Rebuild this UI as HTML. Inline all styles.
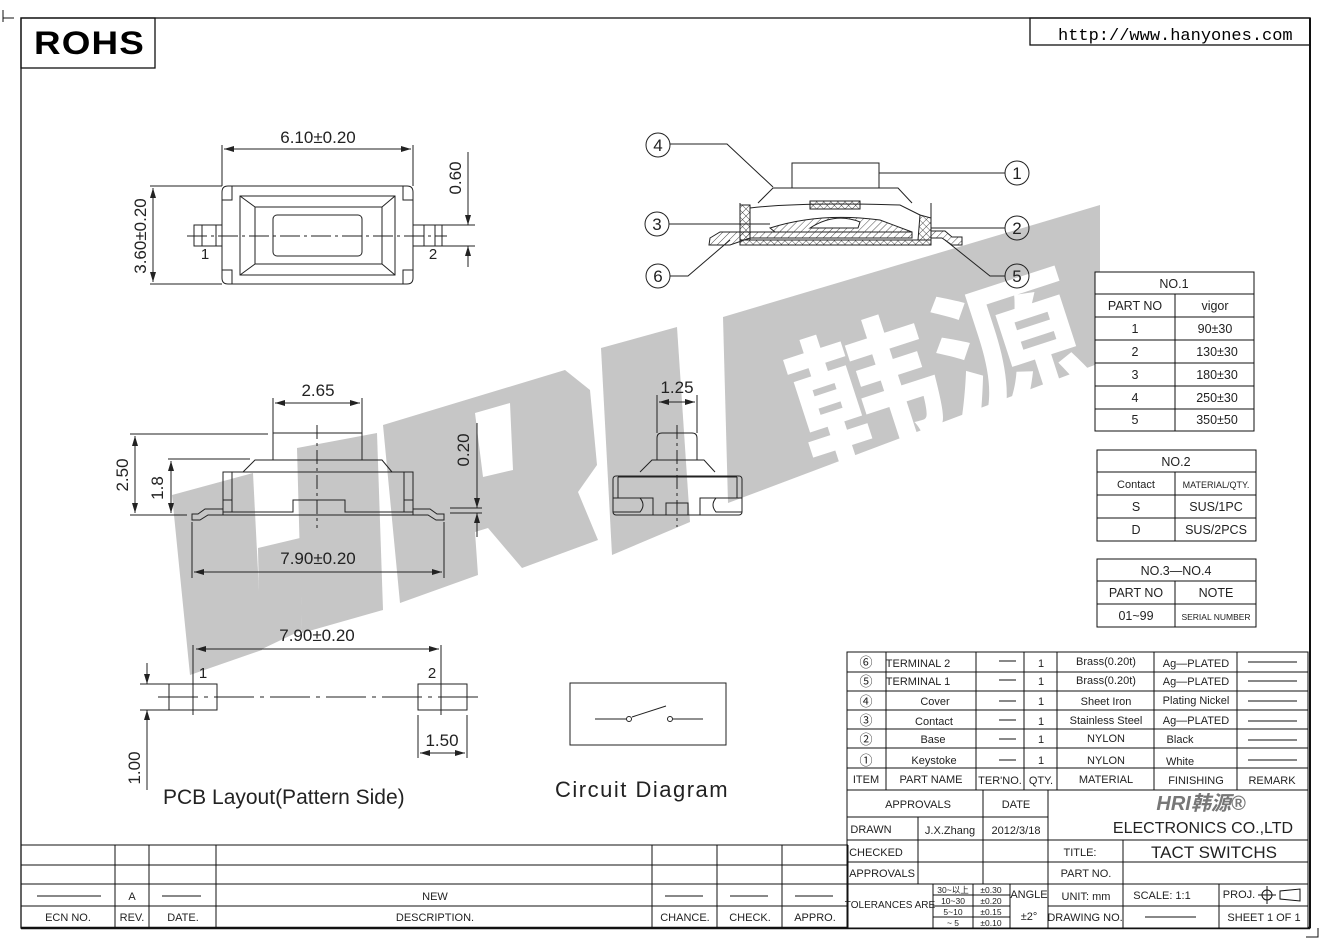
<!DOCTYPE html>
<html><head><meta charset="utf-8"><style>
html,body{margin:0;padding:0;background:#fff;}
svg{display:block;}
text{font-family:"Liberation Sans","Noto Sans CJK SC",sans-serif;fill:#222;}
</style></head><body>
<svg width="1327" height="942" viewBox="0 0 1327 942" xmlns="http://www.w3.org/2000/svg">
<defs>
<pattern id="h" width="5" height="5" patternUnits="userSpaceOnUse" patternTransform="rotate(45)"><line x1="0" y1="0" x2="0" y2="5" stroke="#222" stroke-width="0.8"/></pattern>
<pattern id="x" width="5" height="5" patternUnits="userSpaceOnUse" patternTransform="rotate(45)"><path d="M0 0V5M0 0H5" stroke="#222" stroke-width="0.8" fill="none"/></pattern>
<marker id="a" viewBox="0 0 10 6" refX="10" refY="3" markerWidth="10" markerHeight="6" orient="auto-start-reverse" markerUnits="userSpaceOnUse"><path d="M0 0L10 3L0 6z" fill="#222"/></marker>
</defs>

<!-- watermark -->
<g fill="#c6c6c6">
<polygon points="172,495 253,473 262,650 190,675"/>
<polygon points="258,548 300,538 302,630 260,650"/>
<polygon points="297,448 377,433 383,610 302,633"/>
<path fill-rule="evenodd" d="M383,425 L565,370 L590,390 L597,465 L578,492 L598,540 L522,568 L488,528 L475,532 L478,575 L400,603 Z M475,413 L510,403 L513,470 L483,477 Z"/>
<polygon points="601,348 677,327 690,522 612,555"/>
<polygon points="723,317 1100,205 1100,363 728,503"/>
</g>
<text x="812" y="470" font-size="150" font-weight="bold" style="fill:#fff" transform="rotate(-18 812 470)">韩源</text>

<!-- frame -->
<g stroke="#111" fill="none">
<path d="M3 18H14M3 10V22" stroke-width="1"/>
<rect x="21" y="18" width="1289" height="910" stroke-width="1.3"/>
<line x1="21" y1="928" x2="1310" y2="928" stroke-width="2.5"/>
<line x1="1310" y1="18" x2="1310" y2="928" stroke-width="2"/>
<path d="M1306 937H1318V928" stroke-width="1"/>
<rect x="21" y="18" width="134" height="50" stroke-width="1.3"/>
<rect x="1030" y="18" width="280" height="27" stroke-width="1.3"/>
</g>
<text x="34" y="54" font-size="32" font-weight="bold" letter-spacing="1" style="fill:#000" textLength="111" lengthAdjust="spacingAndGlyphs">ROHS</text>
<text x="1058" y="40" font-size="17" style="font-family:'Liberation Mono',monospace;fill:#000">http://www.hanyones.com</text>

<!-- top view -->
<g stroke="#222" fill="none" stroke-width="1">
<path d="M228 186H407Q413 186 413 192V278Q413 284 407 284H228Q222 284 222 278V192Q222 186 228 186Z"/>
<path d="M232 186V200H222M403 186V200H413M232 284V270H222M403 284V270H413"/>
<rect x="240" y="196" width="155" height="79"/>
<rect x="255" y="207" width="127" height="57"/>
<path d="M240 196L255 207M395 196L382 207M240 275L255 264M395 275L382 264"/>
<rect x="273" y="215" width="89" height="41" rx="4"/>
<rect x="194" y="225" width="28" height="21"/><rect x="413" y="225" width="29" height="21"/>
<path d="M202 225V246M435 225V246M216 225V246M424 225V246"/>
<line x1="187" y1="236" x2="447" y2="236" stroke-dasharray="20,4,3,4"/>
<path d="M222 145V186M413 145V186"/>
<line x1="224" y1="149" x2="411" y2="149" marker-start="url(#a)" marker-end="url(#a)"/>
<path d="M150 186H222M150 284H222"/>
<line x1="153" y1="188" x2="153" y2="282" marker-start="url(#a)" marker-end="url(#a)"/>
<path d="M442 225H475M442 246H475"/>
<line x1="468" y1="152" x2="468" y2="225" marker-end="url(#a)"/>
<line x1="468" y1="267" x2="468" y2="246" marker-end="url(#a)"/>
</g>
<text x="318" y="143" font-size="17" text-anchor="middle">6.10±0.20</text>
<text x="0" y="0" font-size="17" text-anchor="middle" transform="translate(146,236) rotate(-90)">3.60±0.20</text>
<text x="0" y="0" font-size="17" text-anchor="middle" transform="translate(461,178) rotate(-90)">0.60</text>
<text x="205" y="259" font-size="15" text-anchor="middle">1</text>
<text x="433" y="259" font-size="15" text-anchor="middle">2</text>

<!-- cross-section -->
<g stroke="#222" stroke-width="1" fill="none">
<rect x="792" y="163" width="87" height="25" fill="#fff"/>
<path d="M758 203L773 188H898L912 203" fill="#fff"/>
<path d="M740 203V245H931V203"/>
<rect x="740" y="240" width="191" height="5" fill="url(#x)"/>
<rect x="740" y="205" width="10" height="35" fill="url(#x)"/>
<path d="M920 215L931 218V240H918Z" fill="url(#x)"/>
<rect x="810" y="201" width="50" height="8" fill="url(#x)"/>
<path d="M750 208Q800 202 900 205L920 215"/>
<path d="M770 228Q820 212 880 220L912 232H775Z" fill="url(#h)"/>
<path d="M810 228Q835 212 860 222L858 228Z" fill="#fff"/>
<path d="M710 238L720 232H912V238H750L730 245H709Z" fill="url(#h)"/>
<path d="M931 231H945L952 237H962V245H952L942 238H931Z" fill="url(#h)"/>
<circle cx="658" cy="145" r="12"/><circle cx="1017" cy="173" r="12"/>
<circle cx="657" cy="224" r="12"/><circle cx="1017" cy="228" r="12"/>
<circle cx="658" cy="276" r="12"/><circle cx="1017" cy="276" r="12"/>
<path d="M670 144H727L773 187M879 173H1005M669 224H770M931 228H1005M670 276H688L730 240M1005 276H990L945 240"/>
</g>
<g font-size="17" text-anchor="middle">
<text x="658" y="151">4</text><text x="1017" y="179">1</text><text x="657" y="230">3</text>
<text x="1017" y="234">2</text><text x="658" y="282">6</text><text x="1017" y="282">5</text>
</g>

<!-- side view -->
<g stroke="#222" stroke-width="1" fill="none">
<path d="M273 460V433H362V460"/>
<path d="M243 472L255 460H382L392 472"/>
<rect x="223" y="472" width="190" height="43"/>
<path d="M223 500H232V472M413 500H404V472M223 512H293V500H345V512H413"/>
<path d="M232 500V512M404 500V512"/>
<path d="M223 509H205L198 514H192V520H200L208 515H223M413 509H430L437 514H444V520H436L428 515H413"/>
<line x1="317" y1="425" x2="317" y2="528" stroke-dasharray="14,4,3,4"/>
<path d="M273 398V433M362 398V460"/>
<line x1="275" y1="403" x2="360" y2="403" marker-start="url(#a)" marker-end="url(#a)"/>
<path d="M130 434H268M130 515H187M168 459H250"/>
<line x1="135" y1="436" x2="135" y2="513" marker-start="url(#a)" marker-end="url(#a)"/>
<line x1="171" y1="461" x2="171" y2="513" marker-start="url(#a)" marker-end="url(#a)"/>
<path d="M450 508H482M450 513H482"/>
<line x1="477" y1="423" x2="477" y2="508" marker-end="url(#a)"/>
<line x1="477" y1="537" x2="477" y2="513" marker-end="url(#a)"/>
<path d="M192 522V578M444 522V578"/>
<line x1="194" y1="572" x2="442" y2="572" marker-start="url(#a)" marker-end="url(#a)"/>
</g>
<text x="318" y="396" font-size="17" text-anchor="middle">2.65</text>
<text x="318" y="564" font-size="17" text-anchor="middle">7.90±0.20</text>
<text font-size="17" text-anchor="middle" transform="translate(128,475) rotate(-90)">2.50</text>
<text font-size="17" text-anchor="middle" transform="translate(163,488) rotate(-90)">1.8</text>
<text font-size="17" text-anchor="middle" transform="translate(469,450) rotate(-90)">0.20</text>

<!-- front view -->
<g stroke="#222" stroke-width="1" fill="none">
<path d="M657 460V438Q657 433 662 433H692Q697 433 697 438V460"/>
<path d="M640 472L652 460H704L715 472"/>
<rect x="613" y="476" width="129" height="39" rx="3"/>
<path d="M618 477V498H653V515M737 477V498H700V515M618 477H737"/>
<path d="M613 498H640Q646 505 640 512H613M742 498H716Q710 505 716 512H742"/>
<rect x="666" y="503" width="22" height="12"/>
<line x1="677" y1="425" x2="677" y2="527" stroke-dasharray="14,4,3,4"/>
<path d="M657 395V433M697 395V433"/>
<line x1="659" y1="402" x2="695" y2="402" marker-start="url(#a)" marker-end="url(#a)"/>
</g>
<text x="677" y="393" font-size="17" text-anchor="middle">1.25</text>

<!-- PCB layout -->
<g stroke="#222" stroke-width="1" fill="none">
<rect x="169" y="684" width="48" height="26"/><rect x="418" y="684" width="49" height="26"/>
<line x1="158" y1="697" x2="480" y2="697" stroke-dasharray="40,6,4,6"/>
<path d="M193 645V715M441 645V715"/>
<line x1="196" y1="649" x2="439" y2="649" marker-start="url(#a)" marker-end="url(#a)"/>
<path d="M140 684H169M140 710H169M418 715V758M467 715V758"/>
<line x1="147" y1="663" x2="147" y2="684" marker-end="url(#a)"/>
<line x1="147" y1="790" x2="147" y2="710" marker-end="url(#a)"/>
<line x1="420" y1="753" x2="465" y2="753" marker-start="url(#a)" marker-end="url(#a)"/>
<rect x="570" y="683" width="156" height="62"/>
<path d="M595 719H626M632 717L666 706M673 719H703"/>
<circle cx="629" cy="719" r="2.5"/><circle cx="670" cy="719" r="2.5"/>
</g>
<text x="317" y="641" font-size="17" text-anchor="middle">7.90±0.20</text>
<text x="203" y="678" font-size="15" text-anchor="middle">1</text>
<text x="432" y="678" font-size="15" text-anchor="middle">2</text>
<text x="442" y="746" font-size="17" text-anchor="middle">1.50</text>
<text font-size="17" text-anchor="middle" transform="translate(140,768) rotate(-90)">1.00</text>
<text x="163" y="804" font-size="21">PCB Layout(Pattern Side)</text>
<text x="555" y="797" font-size="22" letter-spacing="1.5">Circuit  Diagram</text>

<!-- right tables -->
<g stroke="#111" stroke-width="1" fill="#fff">
<rect x="1095" y="272" width="159" height="159"/>
<path d="M1095 294H1254M1095 317H1254M1095 340H1254M1095 363H1254M1095 386H1254M1095 409H1254M1175 294V431" fill="none"/>
<rect x="1097" y="450" width="159" height="91"/>
<path d="M1097 472H1256M1097 495H1256M1097 518H1256M1175 472V541" fill="none"/>
<rect x="1097" y="559" width="159" height="68"/>
<path d="M1097 581H1256M1097 604H1256M1175 581V627" fill="none"/>
</g>
<g font-size="12.5" text-anchor="middle">
<text x="1174" y="288">NO.1</text>
<text x="1135" y="310">PART  NO</text><text x="1215" y="310">vigor</text>
<text x="1135" y="333">1</text><text x="1215" y="333">90±30</text>
<text x="1135" y="356">2</text><text x="1217" y="356">130±30</text>
<text x="1135" y="379">3</text><text x="1217" y="379">180±30</text>
<text x="1135" y="402">4</text><text x="1217" y="402">250±30</text>
<text x="1135" y="424">5</text><text x="1217" y="424">350±50</text>
<text x="1176" y="466">NO.2</text>
<text x="1136" y="488" font-size="11">Contact</text><text x="1216" y="488" font-size="9">MATERIAL/QTY.</text>
<text x="1136" y="511">S</text><text x="1216" y="511">SUS/1PC</text>
<text x="1136" y="534">D</text><text x="1216" y="534">SUS/2PCS</text>
<text x="1176" y="575">NO.3—NO.4</text>
<text x="1136" y="597">PART  NO</text><text x="1216" y="597">NOTE</text>
<text x="1136" y="620">01~99</text><text x="1216" y="620" font-size="8.5">SERIAL  NUMBER</text>
</g>

<!-- bottom right title block -->
<g stroke="#111" stroke-width="1" fill="none">
<rect x="847" y="652" width="461" height="276" fill="#fff"/>
<path d="M847 672H1308M847 691H1308M847 710H1308M847 729H1308M847 748H1308M847 768H1308M847 790H1308"/>
<path d="M886 652V790M976 652V790M1024 652V790M1057 652V790M1154 652V790M1237 652V790"/>
<path d="M847 817H1048M847 840H1308M847 862H1308M847 884H1308"/>
<path d="M983 790V884M918 817V884M1048 790V928M1123 840V884M1123 884V928M1219 884V928M1048 906H1308"/>
<path d="M933 884V928M973 884V928M1010 884V928M933 895H1010M933 906H1010M933 917H1010"/>
<path d="M1248 662H1297M1248 681H1297M1248 701H1297M1248 721H1297M1248 740H1297M1248 760H1297"/>
<path d="M999 661H1016M999 680H1016M999 701H1016M999 720H1016M999 739H1016M999 760H1016"/>
<path d="M1145 917H1196"/>
<circle cx="1267" cy="895" r="5"/><path d="M1258 895H1276M1267 886V904M1280 891V899L1300 901V889Z"/>
</g>
<g font-size="11" text-anchor="middle">
<g font-size="13"><text x="866" y="667">⑥</text><text x="866" y="686">⑤</text><text x="866" y="706">④</text><text x="866" y="725">③</text><text x="866" y="744">②</text><text x="866" y="765">①</text></g>
<text x="918" y="667">TERMINAL  2</text><text x="918" y="685">TERMINAL  1</text>
<text x="935" y="705">Cover</text><text x="934" y="725">Contact</text><text x="933" y="743">Base</text><text x="934" y="764">Keystoke</text>
<text x="1041" y="667">1</text><text x="1041" y="685">1</text><text x="1041" y="705">1</text><text x="1041" y="725">1</text><text x="1041" y="743">1</text><text x="1041" y="764">1</text>
<text x="1106" y="665">Brass(0.20t)</text><text x="1106" y="684">Brass(0.20t)</text><text x="1106" y="705">Sheet  Iron</text>
<text x="1106" y="724">Stainless  Steel</text><text x="1106" y="742">NYLON</text><text x="1106" y="764">NYLON</text>
<text x="1196" y="667">Ag—PLATED</text><text x="1196" y="685">Ag—PLATED</text><text x="1196" y="704">Plating  Nickel</text>
<text x="1196" y="724">Ag—PLATED</text><text x="1180" y="743">Black</text><text x="1180" y="765">White</text>
<text x="866" y="783">ITEM</text><text x="931" y="783">PART  NAME</text><text x="1000" y="784">TER'NO.</text><text x="1041" y="784">QTY.</text>
<text x="1106" y="783">MATERIAL</text><text x="1196" y="784">FINISHING</text><text x="1272" y="784">REMARK</text>
<text x="918" y="808">APPROVALS</text><text x="1016" y="808">DATE</text>
<text x="871" y="833">DRAWN</text><text x="950" y="834">J.X.Zhang</text><text x="1016" y="834">2012/3/18</text>
<text x="876" y="856">CHECKED</text><text x="1080" y="856">TITLE:</text>
<text x="882" y="877">APPROVALS</text><text x="1086" y="877">PART  NO.</text>
<text x="890" y="908" font-size="10">TOLERANCES  ARE</text>
<g font-size="8.5"><text x="953" y="893">30~以上</text><text x="953" y="904">10~30</text><text x="953" y="915">5~10</text><text x="953" y="926">~ 5</text>
<text x="991" y="893">±0.30</text><text x="991" y="904">±0.20</text><text x="991" y="915">±0.15</text><text x="991" y="926">±0.10</text></g>
<text x="1029" y="898">ANGLE</text><text x="1029" y="920">±2°</text>
<text x="1086" y="900">UNIT:  mm</text><text x="1085" y="921">DRAWING  NO.</text>
<text x="1162" y="899">SCALE:   1:1</text><text x="1239" y="898">PROJ.</text>
<text x="1264" y="921">SHEET   1  OF  1</text>
</g>
<text x="1201" y="810" font-size="20" font-weight="bold" font-style="italic" text-anchor="middle" style="fill:#777">HRI韩源®</text>
<text x="1203" y="833" font-size="16" text-anchor="middle">ELECTRONICS  CO.,LTD</text>
<text x="1214" y="858" font-size="17" text-anchor="middle">TACT  SWITCHS</text>

<!-- bottom left revision block -->
<g stroke="#111" stroke-width="1" fill="none">
<path d="M21 845H848M21 865H848M21 884H848M21 906H848"/>
<path d="M115 845V928M149 845V928M216 845V928M652 845V928M717 845V928M782 845V928M848 845V928"/>
<path d="M37 896H101M162 896H201M665 896H703M730 896H768M795 896H833"/>
</g>
<g font-size="11" text-anchor="middle">
<text x="132" y="900">A</text><text x="435" y="900">NEW</text>
<text x="68" y="921">ECN  NO.</text><text x="132" y="921">REV.</text><text x="183" y="921">DATE.</text>
<text x="435" y="921">DESCRIPTION.</text><text x="685" y="921">CHANCE.</text><text x="750" y="921">CHECK.</text><text x="815" y="921">APPRO.</text>
</g>
</svg>
</body></html>
